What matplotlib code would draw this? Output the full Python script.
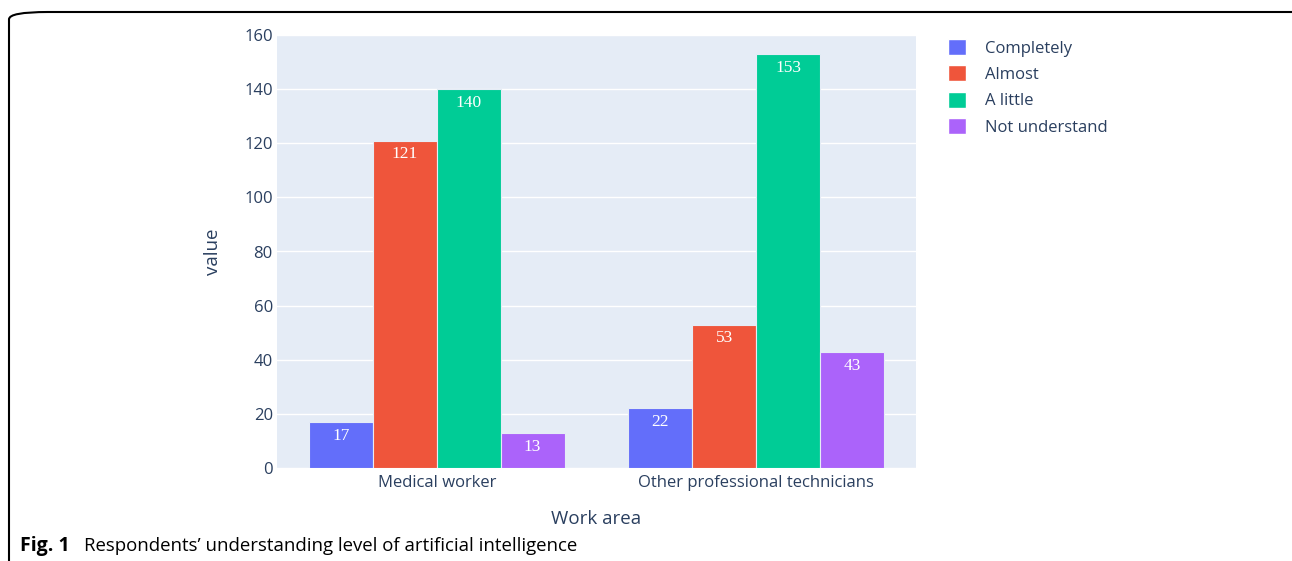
import numpy as np
import matplotlib.pyplot as plt
from matplotlib.patches import FancyBboxPatch, Patch

# data
work_areas = ["Medical worker", "Other professional technicians"]
levels = ["Completely", "Almost", "A little", "Not understand"]
completely = [17, 22]
almost = [121, 53]
a_little = [140, 153]
not_understand = [13, 43]

colors = ["#636EFA", "#EF553B", "#00CC96", "#AB63FA"]
text_col = "#2a3f5f"

plt.rcParams['font.family'] = ['Open Sans', 'DejaVu Sans']

fig = plt.figure(figsize=(12.92, 5.61), dpi=100)
ax = fig.add_axes([277 / 1292, 1 - 468 / 561, (916 - 277) / 1292, (468 - 35) / 561])
ax.set_facecolor("#E5ECF6")

x = np.arange(len(work_areas))
width = 0.2
series = [completely, almost, a_little, not_understand]
for i, vals in enumerate(series):
    pos = x + (i - 1.5) * width
    bars = ax.bar(pos, vals, width, color=colors[i], edgecolor="#E5ECF6",
                  linewidth=0.8, zorder=3)
    for b, v in zip(bars, vals):
        ax.annotate(str(v), (b.get_x() + b.get_width() / 2, v),
                    xytext=(0, -10), textcoords="offset points",
                    ha="center", va="center", color="white", fontsize=12.5,
                    family="Liberation Serif", zorder=4)

ax.set_xlim(-0.5, 1.5)
ax.set_ylim(0, 160)
ax.set_yticks(np.arange(0, 161, 20))
ax.set_xticks(x)
ax.set_xticklabels(work_areas)
ax.grid(axis="y", color="white", linewidth=1, zorder=0)
for s in ax.spines.values():
    s.set_visible(False)
ax.tick_params(axis="y", length=0, labelsize=12, labelcolor=text_col, pad=3)
ax.tick_params(axis="x", length=0, labelsize=12, labelcolor=text_col, pad=5)
ax.set_ylabel("value", fontsize=13.5, color=text_col, labelpad=16)
ax.set_xlabel("Work area", fontsize=13.5, color=text_col, labelpad=14)

handles = [Patch(facecolor=c, edgecolor="white") for c in colors]
fig.legend(handles, levels, loc="upper left", bbox_to_anchor=(933 / 1292, 1 - 24 / 561),
           frameon=False, fontsize=12, labelcolor=text_col, handlelength=1.1,
           handleheight=1.1, handletextpad=1.1, labelspacing=0.52)

# rounded frame around the figure
frame = FancyBboxPatch((9 / 1292, -0.2), 1.2, (561 - 12) / 561 + 0.2,
                       boxstyle="round,pad=0,rounding_size=0.03",
                       transform=fig.transFigure, fill=False, edgecolor="black",
                       linewidth=1.5, mutation_aspect=561 / 1292)
fig.patches.append(frame)

# caption
fig.text(20 / 1292, 1 - 546 / 561, "Fig. 1", fontsize=14, va="center", ha="left",
         weight="bold", color="black")
fig.text(84 / 1292, 1 - 546 / 561, "Respondents’ understanding level of artificial intelligence",
         fontsize=13.4, va="center", ha="left", color="black")

fig.savefig("out.png", dpi=100)
